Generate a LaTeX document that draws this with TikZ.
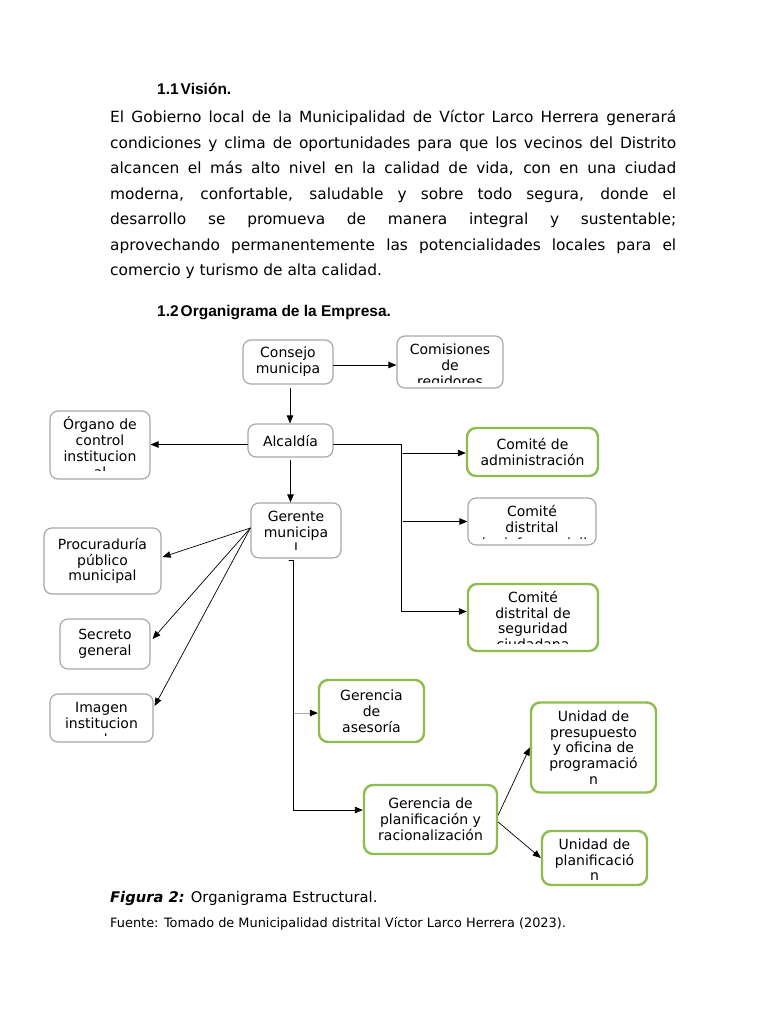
\documentclass[tikz,border=0pt]{standalone}
\usepackage{fontspec}
\setmainfont{DejaVu Sans}
\newfontfamily\headfont{Liberation Sans}
\usetikzlibrary{arrows.meta}
\definecolor{boxgray}{RGB}{168,168,168}
\definecolor{boxgreen}{RGB}{141,189,79}
\tikzset{
	graybox/.style={draw=boxgray,line width=1.2pt,rounded corners=8pt,fill=white,inner sep=0pt},
	greenbox/.style={draw=boxgreen,line width=2.4pt,rounded corners=9pt,fill=white,inner sep=0pt},
	boxtext/.style={font=\fontsize{14}{15.8}\selectfont,align=center,inner sep=0pt},
	link/.style={->,line width=0.9pt},
	thinlink/.style={->,line width=0.7pt}
}
% text of a box that is cut off at the bottom: node, inset, lines
\newcommand{\boxcut}[3]{%
	\begin{scope}
		\clip (#1.north west) rectangle ([yshift=#2]#1.south east);
		\node[boxtext,text width=140pt,anchor=base] at ([yshift=-19.5pt]#1.north) {#3};
	\end{scope}}
\begin{document}
\begin{tikzpicture}[line cap=round,line join=round,>={Triangle[length=8pt,width=6.5pt]},x=1pt,y=-1pt]
		\fill[white] (0,0) rectangle (768,1024);
		\useasboundingbox (0,0) rectangle (768,1024);
		%%%%%%%%%%%%%%% T E X T %%%%%%%%%%%%%%%%
		\node[anchor=base west,inner sep=0pt,font=\headfont\bfseries\fontsize{15.5}{18}\selectfont] (vishead) at (157,95) {1.1\hspace{2pt}Visión.};
		\node[anchor=base west,inner sep=0pt,text width=566pt,align=justify,font=\fontsize{15.4}{25.5}\selectfont] (vision) at (110,123) {%
			El Gobierno local de la Municipalidad de Víctor Larco Herrera generará\linebreak
			condiciones y clima de oportunidades para que los vecinos del Distrito\linebreak
			alcancen el más alto nivel en la calidad de vida, con en una ciudad\linebreak
			moderna, confortable, saludable y sobre todo segura, donde el\linebreak
			desarrollo se promueva de manera integral y sustentable;\linebreak
			aprovechando permanentemente las potencialidades locales para el\linebreak
			comercio y turismo de alta calidad.};
		\node[anchor=base west,inner sep=0pt,font=\headfont\bfseries\fontsize{15.5}{18}\selectfont] (orghead) at (157,316) {1.2\hspace{2pt}Organigrama de la Empresa.};
		%%%%%%%%%%%%%%% B O X E S %%%%%%%%%%%%%%%%
		%level 0
		\node[graybox,boxtext,minimum width=90pt,minimum height=44pt] (consejo) at (288,362) {Consejo\\municipa};
		\node[graybox,minimum width=106pt,minimum height=52pt] (comisiones) at (450,362) {};
		\boxcut{comisiones}{6pt}{Comisiones\\de\\regidores}
		%level 1
		\node[graybox,minimum width=100pt,minimum height=68pt] (organo) at (100,445) {};
		\boxcut{organo}{9.5pt}{Órgano de\\control\\institucion\\al}
		\node[graybox,boxtext,minimum width=85pt,minimum height=33pt] (alcaldia) at (290.5,440.5) {Alcaldía};
		%comites
		\node[greenbox,boxtext,minimum width=131pt,minimum height=48pt] (cadmin) at (532.5,452) {Comité de\\administración};
		\node[graybox,minimum width=128pt,minimum height=47pt] (cinfo) at (532,521.5) {};
		\boxcut{cinfo}{7.5pt}{Comité\\distrital\\de defensa civil}
		\node[greenbox,minimum width=130pt,minimum height=67pt] (cseg) at (533,617.5) {};
		\boxcut{cseg}{8.5pt}{Comité\\distrital de\\seguridad\\ciudadana}
		%level 2
		\node[graybox,minimum width=90pt,minimum height=55pt] (gerente) at (296,530.5) {};
		\boxcut{gerente}{9pt}{Gerente\\municipa\\l}
		\node[graybox,boxtext,minimum width=117pt,minimum height=66pt] (procu) at (102.5,561) {Procuraduría\\público\\municipal};
		\node[graybox,boxtext,minimum width=90pt,minimum height=50pt] (secreto) at (105,644) {Secreto\\general};
		\node[graybox,minimum width=103pt,minimum height=48pt] (imagen) at (101.5,718) {};
		\boxcut{imagen}{7.5pt}{Imagen\\institucion\\al}
		%level 3
		\node[greenbox,boxtext,minimum width=105pt,minimum height=62pt] (asesoria) at (371.5,711) {Gerencia\\de\\asesoría};
		\node[greenbox,boxtext,minimum width=133pt,minimum height=69pt] (planif) at (430.5,819.5) {Gerencia de\\planificación y\\racionalización};
		%level 4
		\node[greenbox,boxtext,minimum width=125pt,minimum height=90pt] (presup) at (593.5,747.5) {Unidad de\\presupuesto\\y oficina de\\programació\\n};
		\node[greenbox,minimum width=105pt,minimum height=54pt] (uplanif) at (594.5,858) {};
		\boxcut{uplanif}{7pt}{Unidad de\\planificació\\n}
		%%%%%%%%%%%%%%% L I N K S %%%%%%%%%%%%%%%%
		%consejo
		\draw [link] ([yshift=-3pt]consejo.east) -- ([yshift=-3pt]consejo.east -| comisiones.west);
		\draw [link] ([xshift=2pt,yshift=-4pt]consejo.south) -- ([xshift=2pt]consejo.south |- alcaldia.north);
		%alcaldia
		\draw [link] ([yshift=-4pt]alcaldia.west) -- ([yshift=-4pt]alcaldia.west -| organo.east);
		\draw [link] ([yshift=-3pt]alcaldia.south) -- (alcaldia.south |- gerente.north);
		\draw [link] ([yshift=-4pt]alcaldia.east) -- ++(68,0) |- ([yshift=6pt]cseg.west);
		\draw [link] ([xshift=-63pt,yshift=-1pt]cadmin.west) -- ([yshift=-1pt]cadmin.west);
		\draw [link] ([xshift=-64pt]cinfo.west) -- (cinfo.west);
		%gerente
		\draw [thinlink] ([yshift=2.5pt]gerente.west) -- ([xshift=1pt,yshift=4pt]procu.east);
		\draw [thinlink] ([yshift=2.5pt]gerente.west) -- ([xshift=2pt,yshift=5pt]secreto.east);
		\draw [thinlink] ([yshift=2.5pt]gerente.west) -- ([xshift=1pt,yshift=12pt]imagen.east);
		\draw [link] ([xshift=-7pt,yshift=-2pt]gerente.south) -- ++(4,0) |- ([yshift=9.5pt]planif.west);
		\draw [-{Triangle[length=8pt,width=6.5pt,color=black]},line width=0.9pt,draw=boxgray] ([xshift=-23pt,yshift=-2pt]asesoria.west) -- ([yshift=-2pt]asesoria.west);
		%planificacion
		\draw [thinlink] ([yshift=4.5pt]planif.east) -- (presup.west);
		\draw [thinlink] ([yshift=-2.5pt]planif.east) -- (uplanif.west);
		%%%%%%%%%%%%%%% C A P T I O N %%%%%%%%%%%%%%%%
		\node[anchor=base west,inner sep=0pt,font=\fontsize{14.7}{18}\selectfont] (figcap) at (110,902) {\textbf{\textit{Figura 2:}} Organigrama Estructural.};
		\node[anchor=base west,inner sep=0pt,font=\fontsize{12.9}{15}\selectfont] (source) at (110,927) {Fuente: Tomado de Municipalidad distrital Víctor Larco Herrera (2023).};
\end{tikzpicture}
\end{document}
